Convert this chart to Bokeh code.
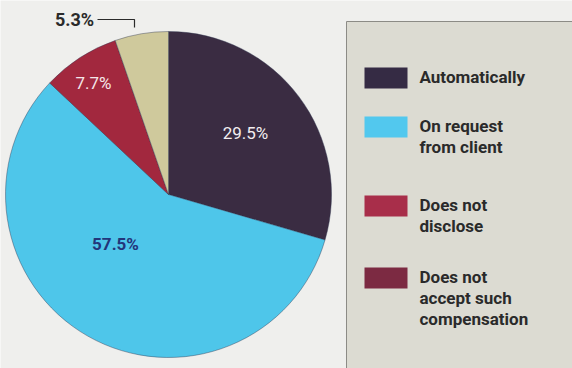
from bokeh.plotting import figure
from bokeh.models import Range1d, ColumnDataSource
from bokeh.core.properties import value
from bokeh.embed import file_html
from bokeh.resources import INLINE
import math

categories = ["Automatically", "On request from client", "Does not disclose", "Does not accept such compensation"]
shares = [29.5, 57.5, 7.7, 5.3]
slice_colors = ["#3a2c42", "#4ec6ea", "#a2283e", "#cfc99c"]
legend_labels = ["Automatically", "On request\nfrom client", "Does not\ndisclose", "Does not\naccept such\ncompensation"]
legend_colors = ["#352b44", "#52c8ee", "#a82e4a", "#7c2a42"]
value_labels = ["29.5%", "57.5%", "7.7%", "5.3%"]

FONT = "Roboto"
W, H = 572, 368
p = figure(width=W, height=H, x_range=Range1d(0, W), y_range=Range1d(0, H),
           output_backend="svg", toolbar_location=None, min_border=0)
p.axis.visible = False
p.grid.visible = False
p.outline_line_color = None
p.background_fill_color = "#efefed"
p.border_fill_color = "#efefed"

# legend panel
p.quad(left=346, right=W, bottom=0, top=H - 21, fill_color="#dcdbd2", line_color=None)
p.line([346, 346, W], [0, H - 21, H - 21], line_color="#8c8b86", line_width=1)

# pie
cx, cy, r = 168, H - 194, 163
total = sum(shares)
starts, ends = [], []
cum = 0.0
for s in shares:
    starts.append(math.pi / 2 - 2 * math.pi * cum / total)
    cum += s
    ends.append(math.pi / 2 - 2 * math.pi * cum / total)
src = ColumnDataSource(dict(start=starts, end=ends, color=slice_colors, cat=categories))
p.wedge(x=cx, y=cy, radius=r, start_angle="start", end_angle="end", direction="clock",
        fill_color="color", line_color="#2e3550", line_width=0.7, line_alpha=0.6, source=src)

# value labels
lab_x = [245, 115, 93, 74]
lab_y = [H - 132, H - 243, H - 82, H - 19]
lab_col = ["#f2eef0", "#23357a", "#f4e6e8", "#2a2a2a"]
lab_size = ["17px", "17px", "17px", "18px"]
lab_style = ["normal", "bold", "normal", "bold"]
for i in range(4):
    p.text(x=[lab_x[i]], y=[lab_y[i]], text=[value_labels[i]], text_align="center",
           text_baseline="middle", text_color=lab_col[i], text_font_size=lab_size[i],
           text_font=value(FONT), text_font_style=lab_style[i])
# leader for 5.3%
p.line([97, 134, 134], [H - 19, H - 19, H - 27], line_color="#2a2a2a", line_width=1.2)

# legend
sw_top = [67, 116, 195, 267]
for i in range(4):
    p.quad(left=364, right=407, top=H - sw_top[i], bottom=H - sw_top[i] - 21,
           fill_color=legend_colors[i], line_color=None)
    p.text(x=[419], y=[H - sw_top[i] + 1], text=[legend_labels[i]], text_align="left",
           text_baseline="top", text_color="#2a2a2a", text_font_size="17px",
           text_line_height=1.05, text_font=value(FONT),
           text_font_style="bold")

open("out.html", "w").write(file_html(p, INLINE))
